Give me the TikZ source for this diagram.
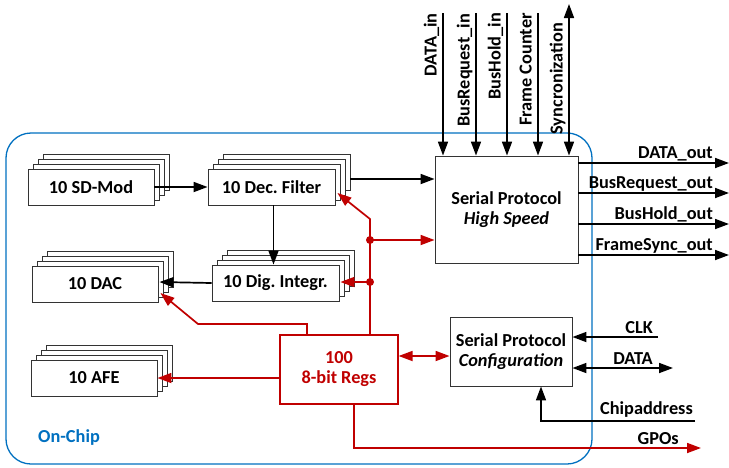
\documentclass[tikz,border=0pt]{standalone}
\usepackage{fontspec}
\setmainfont{Carlito}
\usetikzlibrary{arrows.meta,shadows,calc}
\definecolor{cred}{HTML}{C00000}
\definecolor{cblue}{HTML}{0070C0}
\frenchspacing
\begin{document}
\begin{tikzpicture}[x=1pt,y=-1pt,
  font=\fontsize{18.3}{20}\selectfont\bfseries,
  box/.style={draw=black!80, line width=0.9pt, fill=white, inner sep=0pt, align=center},
  lay/.style={shadow xshift=#1, shadow yshift=#1, draw=black!80, line width=0.9pt, fill=white},
  stack/.style={box, minimum width=126pt, minimum height=36pt,
    copy shadow={lay=15pt}, copy shadow={lay=10pt}, copy shadow={lay=5pt}},
  tip/.style={-{Triangle[length=14pt,width=10pt]}},
  dtip/.style={{Triangle[length=14pt,width=10pt]}-{Triangle[length=14pt,width=10pt]}},
  conn/.style={line width=1.7pt, tip},
  dconn/.style={line width=1.7pt, dtip},
  rconn/.style={conn, draw=cred},
  lbl/.style={inner sep=0pt},
  rlbl/.style={lbl, rotate=90, anchor=base east}]
\useasboundingbox (0,0) rectangle (729,467);
% on-chip region
\draw[cblue, line width=1.3pt, rounded corners=25pt] (6,133) rectangle (592,464);
\node[lbl, text=cblue, anchor=base west] (onchip) at (38,442) {On-Chip};
% blocks
\node[stack] (sd)  at (91,187)    {10 SD-Mod};
\node[stack, minimum width=127pt] (dec) at (271.5,187) {10 Dec. Filter};
\node[stack] (dac) at (95,284)    {10 DAC};
\node[stack, minimum width=127pt] (dig) at (275.5,283) {10 Dig. Integr.};
\node[stack] (afe) at (94,378)    {10 AFE};
\node[box, draw=cred, line width=1.2pt, text=cred, minimum width=118pt, minimum height=69pt] (regs) at (339,369.5) {100\\8-bit Regs};
\node[box, minimum width=143pt, minimum height=107pt] (hs) at (506.5,209.5) {Serial Protocol\\\textit{High Speed}};
\node[box, minimum width=122pt, minimum height=69pt] (cfg) at (511,351.5) {Serial Protocol\\\textit{Configuration}};
% black connectors
\draw[conn] (sd.east) -- (dec.west);
\coordinate (ds) at ($(dec.south)+(2,0)$);
\draw[conn] (ds) -- (ds |- dig.north);
\coordinate (dacin) at ($(dac.east)+(1,-2)$);
\draw[conn] (dig.west) -- (dacin);
\coordinate (decout) at ($(dec.east)+(15,-8)$);
\draw[conn] (decout) -- (decout -| hs.west);
% top inputs
\coordinate (t1) at (443,13);
\coordinate (t2) at (476,13);
\coordinate (t3) at (507,13);
\coordinate (t4) at (538,13);
\coordinate (t5) at (569,4);
\draw[conn] (t1) -- (t1 |- hs.north);
\draw[conn] (t2) -- (t2 |- hs.north);
\draw[conn] (t3) -- (t3 |- hs.north);
\draw[conn] (t4) -- (t4 |- hs.north);
\draw[dconn] (t5) -- (t5 |- hs.north);
\node[rlbl] (l1) at (436.5,13) {DATA\_in};
\node[rlbl] (l2) at (469.5,14) {BusRequest\_in};
\node[rlbl] (l3) at (500.5,13) {BusHold\_in};
\node[rlbl] (l4) at (531.5,13) {Frame Counter};
\node[rlbl] (l5) at (562.5,23) {Syncronization};
% right outputs
\coordinate (o1) at (729,163);
\coordinate (o2) at (729,193);
\coordinate (o3) at (729,224);
\coordinate (o4) at (729,255);
\draw[conn] (o1 -| hs.east) -- (o1);
\draw[conn] (o2 -| hs.east) -- (o2);
\draw[conn] (o3 -| hs.east) -- (o3);
\draw[conn] (o4 -| hs.east) -- (o4);
\node[lbl, anchor=base east] (lo1) at (713,158) {DATA\_out};
\node[lbl, anchor=base east] (lo2) at (713,188) {BusRequest\_out};
\node[lbl, anchor=base east] (lo3) at (713,219) {BusHold\_out};
\node[lbl, anchor=base east] (lo4) at (713,250) {FrameSync\_out};
% configuration interface
\coordinate (clk) at (658,337);
\coordinate (dat) at (673,368);
\coordinate (chip) at (695,421);
\coordinate (cfgb) at ($(cfg.south)+(30,0)$);
\draw[conn] (clk) -- (clk -| cfg.east);
\draw[dconn] (dat -| cfg.east) -- (dat);
\draw[conn] (chip) -| (cfgb);
\node[lbl, anchor=base east] (lclk) at (653,333) {CLK};
\node[lbl, anchor=base east] (ldat) at (653,364) {DATA};
\node[lbl, anchor=base east] (lchip) at (693,414) {Chipaddress};
% red register connections
\coordinate (gpo) at (701,448);
\coordinate (regsb) at ($(regs.south)+(15,0)$);
\draw[rconn] (regsb) |- (gpo);
\node[lbl, anchor=base east] (lgpo) at (679,444) {GPOs};
\coordinate (cfgw) at ($(cfg.west)+(0,4.5)$);
\draw[dconn, cred] (cfgw) -- (cfgw -| regs.east);
\draw[rconn] (regs.west |- afe.east) -- (afe.east);
\coordinate (k) at (198,324);
\coordinate (regsl) at ($(regs.north)+(-32,0)$);
\coordinate (dacr) at ($(dac.east)+(2,9)$);
\draw[rconn] (regsl) |- (k) -- (dacr);
\coordinate (bend) at (370,219);
\coordinate (d1) at (370,240);
\coordinate (d2) at (370,282);
\coordinate (regsr) at ($(regs.north)+(31,0)$);
\coordinate (decr) at ($(dec.east)+(2,6)$);
\coordinate (digr) at ($(dig.east)+(1,-1)$);
\draw[rconn] (regsr) -- (bend) -- (decr);
\draw[rconn] (d1) -- (d1 -| hs.west);
\draw[rconn] (d2) -- (digr);
\fill[cred] (d1) circle (4pt) (d2) circle (4pt);
\end{tikzpicture}
\end{document}
